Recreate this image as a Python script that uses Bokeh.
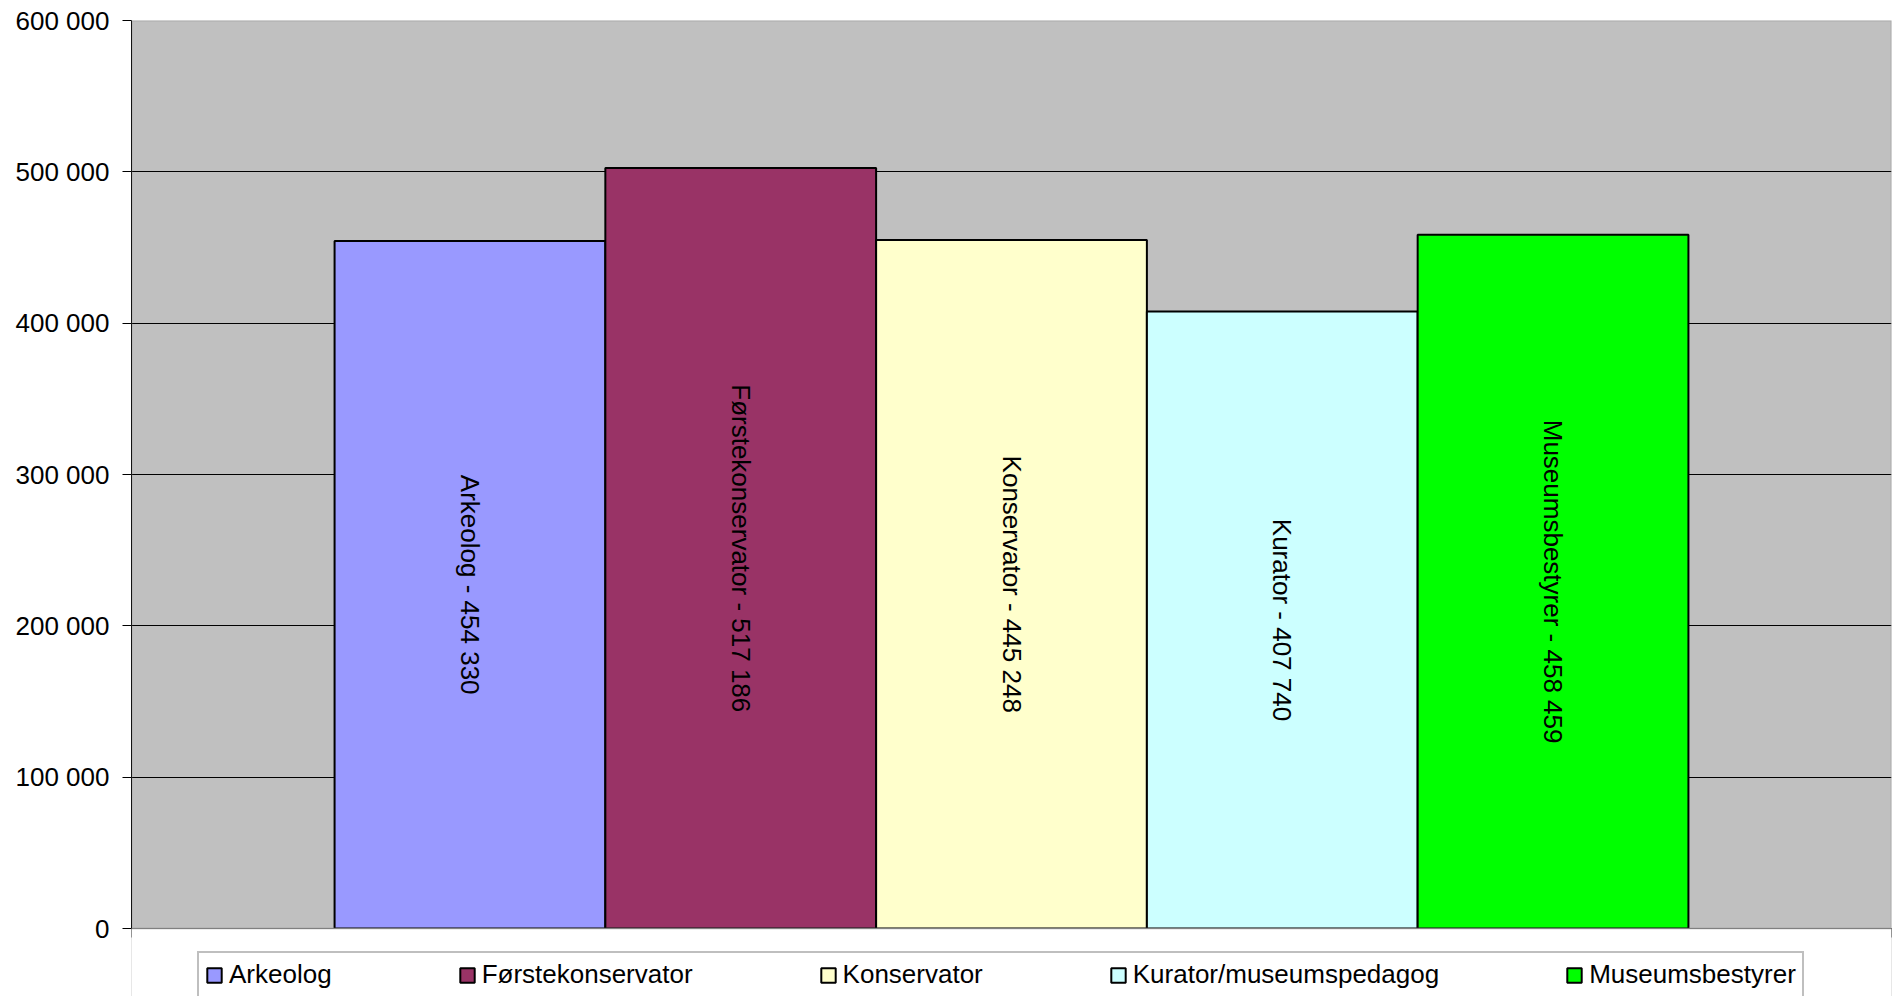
import math
from bokeh.plotting import figure
from bokeh.models import (ColumnDataSource, Range1d, FixedTicker, Legend,
                          LegendItem, BoxAnnotation)
from bokeh.core.properties import value
from bokeh.embed import file_html
from bokeh.resources import INLINE

# ---------------- data ----------------
categories = ["Arkeolog", "Førstekonservator", "Konservator",
              "Kurator/museumspedagog", "Museumsbestyrer"]
values = [454330, 502500, 455000, 407740, 458459]
bar_labels = ["Arkeolog - 454 330", "Førstekonservator - 517 186",
              "Konservator - 445 248", "Kurator - 407 740",
              "Museumsbestyrer - 458 459"]
colors = ["#9999FF", "#993366", "#FFFFCC", "#CCFFFF", "#00FF00"]
y_ticks = [0, 100000, 200000, 300000, 400000, 500000, 600000]
y_tick_labels = ["0", "100 000", "200 000", "300 000", "400 000", "500 000", "600 000"]

FONT = "Liberation Sans"

xpos = [i + 1 for i in range(len(categories))]
src = ColumnDataSource(dict(x=xpos, cat=categories, val=values,
                            mid=[v / 2 for v in values],
                            label=bar_labels, color=colors))

# layout geometry (pixels)
W, H = 1896, 996
TOP, LEFT, RIGHT = 20, 131, 5
PLOT_H = 908           # pixel height of the 0..600 000 value area
BELOW = 68             # room under the value area for the legend
y_max = 600000
y_min = -BELOW * y_max / PLOT_H

pad = 0.75
x_start, x_end = 0.5 - pad, len(categories) + 0.5 + pad

p = figure(width=W, height=H,
           x_range=Range1d(x_start, x_end),
           y_range=Range1d(y_min, y_max),
           output_backend="svg", toolbar_location=None,
           x_axis_location="above",
           min_border_left=LEFT, min_border_right=RIGHT,
           min_border_top=TOP, min_border_bottom=0,
           background_fill_color="#C0C0C0", border_fill_color="white",
           outline_line_color=None)

# x axis sits at value 0, ticks only at the plot edges pointing down
p.xaxis.fixed_location = 0
p.xaxis.ticker = FixedTicker(ticks=[x_start, x_end])
p.xaxis.major_label_text_color = None
p.xaxis.major_label_text_font_size = "1px"
p.xaxis.major_label_standoff = 0
p.xaxis.major_tick_out = 0
p.xaxis.major_tick_in = 9
p.xaxis.major_tick_line_color = "black"
p.xaxis.minor_tick_line_color = None
p.xaxis.axis_line_color = "black"

# y axis
p.yaxis.bounds = (0, y_max)
p.yaxis.ticker = FixedTicker(ticks=y_ticks)
p.yaxis.major_label_overrides = dict(zip(y_ticks, y_tick_labels))
p.yaxis.major_label_text_font = FONT
p.yaxis.major_label_text_font_size = "26px"
p.yaxis.major_label_text_color = "black"
p.yaxis.major_label_standoff = 13
p.yaxis.major_tick_out = 9
p.yaxis.major_tick_in = 0
p.yaxis.minor_tick_line_color = None
p.yaxis.axis_line_color = "black"
p.yaxis.major_tick_line_color = "black"

p.ygrid.ticker = FixedTicker(ticks=y_ticks)
p.ygrid.grid_line_color = "black"
p.ygrid.grid_line_width = 1
p.xgrid.visible = False

r = p.vbar(x="x", top="val", bottom=0, width=1.0, source=src,
           fill_color="color", line_color="black", line_width=2)

p.text(x="x", y="mid", text="label", source=src, angle=-math.pi / 2,
       text_align="center", text_baseline="middle",
       text_font=value(FONT), text_font_size="26px", text_color="black")

# white area under the value axis, and grey border of the plot area
p.add_layout(BoxAnnotation(top=0, fill_color="white", fill_alpha=1.0,
                           line_color=None))
p.add_layout(BoxAnnotation(bottom=0, fill_alpha=0.0, line_color="#808080",
                           line_width=2))

legend = Legend(items=[LegendItem(label=c, renderers=[r], index=i)
                       for i, c in enumerate(categories)],
                orientation="horizontal", location=(66, -2),
                label_text_font=FONT, label_text_font_size="26px",
                label_text_color="black",
                glyph_width=18, glyph_height=18, label_standoff=6,
                spacing=126, padding=6, margin=0,
                border_line_color="#808080", border_line_width=2,
                background_fill_color="white", background_fill_alpha=1.0)
p.add_layout(legend)

open("out.html", "w").write(file_html(p, INLINE))
